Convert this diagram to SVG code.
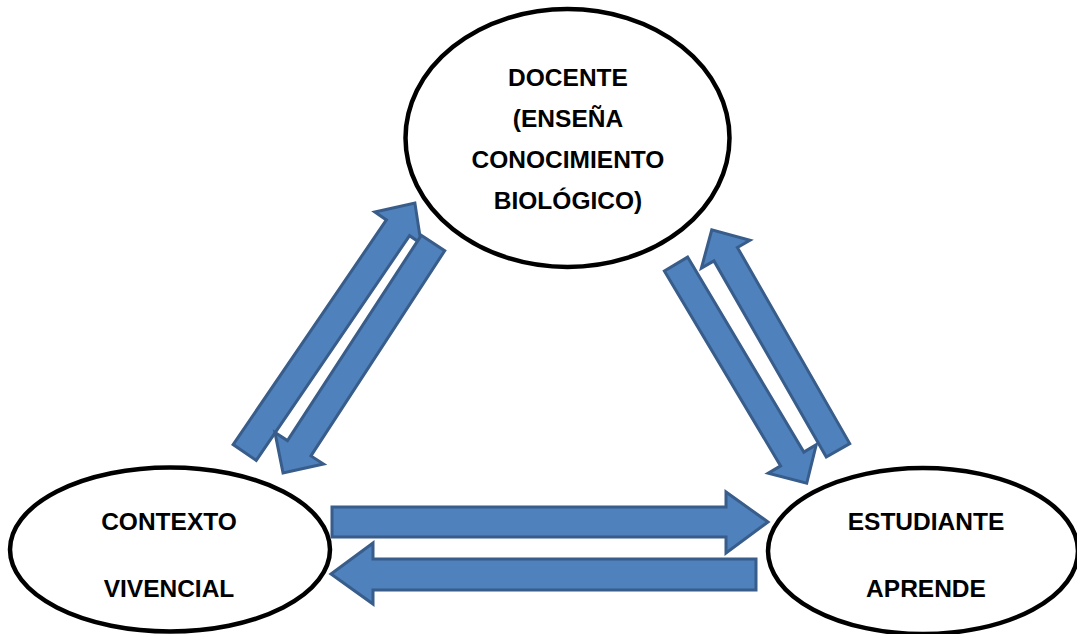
<svg xmlns="http://www.w3.org/2000/svg" width="1077" height="634" viewBox="0 0 1077 634">
  <style>
    .node { fill: #ffffff; stroke: #000000; stroke-width: 4.5; }
    .arrow { fill: #4f81bd; stroke: #385d8a; stroke-width: 3; stroke-linejoin: miter; }
    .label { font-family: "Liberation Sans", Arial, sans-serif; font-weight: bold; font-size: 24.5px; fill: #000000; text-anchor: middle; }
  </style>
  <rect width="1077" height="634" fill="#ffffff"/>

  <g id="docente">
    <ellipse class="node" cx="567.5" cy="138" rx="162" ry="129"/>
    <text class="label" x="568" y="86">DOCENTE</text>
    <text class="label" x="568" y="127">(ENSEÑA</text>
    <text class="label" x="568" y="168">CONOCIMIENTO</text>
    <text class="label" x="568" y="209">BIOLÓGICO)</text>
  </g>

  <g id="contexto">
    <ellipse class="node" cx="170" cy="549.5" rx="160" ry="82"/>
    <text class="label" x="169" y="530">CONTEXTO</text>
    <text class="label" x="169" y="597">VIVENCIAL</text>
  </g>

  <g id="estudiante">
    <ellipse class="node" cx="923" cy="551" rx="155" ry="83"/>
    <text class="label" x="926" y="530">ESTUDIANTE</text>
    <text class="label" x="926" y="597">APRENDE</text>
  </g>

  <g id="connectors">
    <!-- contexto -> docente -->
    <polygon class="arrow" transform="translate(244.7,452.5) rotate(-55.7)" points="0,-14 272,-14 272,-28 302,0 272,28 272,14 0,14"/>
    <!-- docente -> contexto -->
    <polygon class="arrow" transform="translate(433,243) rotate(123.1)" points="0,-14 245,-14 245,-29 274.6,0 245,29 245,14 0,14"/>
    <!-- docente -> estudiante -->
    <polygon class="arrow" transform="translate(676,264) rotate(59.2)" points="0,-13.5 227,-13.5 227,-28 255.3,0 227,28 227,13.5 0,13.5"/>
    <!-- estudiante -> docente -->
    <polygon class="arrow" transform="translate(838,450.3) rotate(-119.8)" points="0,-13.5 226,-13.5 226,-28 254,0 226,28 226,13.5 0,13.5"/>
    <!-- contexto -> estudiante -->
    <polygon class="arrow" points="332,507 726,507 726,492 768,522 726,553 726,537 332,537"/>
    <!-- estudiante -> contexto -->
    <polygon class="arrow" points="756,559 373,559 373,543 331,574 373,604 373,590 756,590"/>
  </g>
</svg>
